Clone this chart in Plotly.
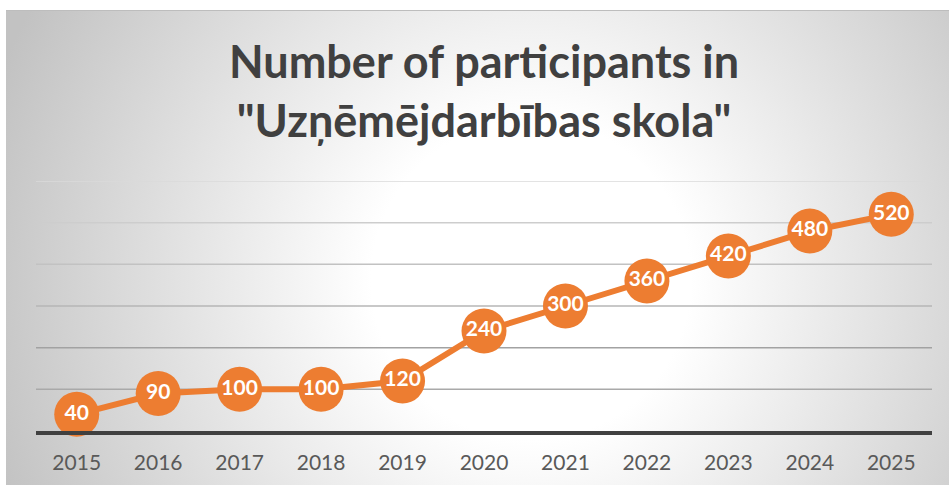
import base64
import plotly.graph_objects as go

# ---- data ----
years = ["2015", "2016", "2017", "2018", "2019", "2020", "2021", "2022", "2023", "2024", "2025"]
participants = [40, 90, 100, 100, 120, 240, 300, 360, 420, 480, 520]
grid_values = [100, 200, 300, 400, 500, 600]
title_text = 'Number of participants in<br>"Uzņēmējdarbības skola"'

# ---- style ----
ORANGE = "#ED7D31"
grid_colors = ["#a9a9a9", "#a2a2a2", "#b6b6b6", "#c2c2c2", "#cdcdcd", "#dadada"]
W, H = 949, 485
ML, MR, MT, MB = 36, 17, 181, 54

# radial gradient background as an SVG image
bw, bh = W - 6, H - 10
svg = f'''<svg xmlns="http://www.w3.org/2000/svg" width="{bw}" height="{bh}" viewBox="0 0 {bw} {bh}" preserveAspectRatio="none">
<defs><radialGradient id="g" gradientUnits="userSpaceOnUse" cx="525" cy="270" r="570">
<stop offset="0" stop-color="#ffffff"/><stop offset="0.28" stop-color="#ffffff"/>
<stop offset="1" stop-color="#c2c2c2"/></radialGradient></defs>
<rect x="0" y="0" width="{bw}" height="{bh}" fill="url(#g)"/>
<line x1="0" y1="0.5" x2="{bw}" y2="0.5" stroke="#bdbdbd" stroke-width="1"/>
</svg>'''
src = "data:image/svg+xml;base64," + base64.b64encode(svg.encode()).decode()

pw = W - ML - MR
ph = H - MT - MB

fig = go.Figure()
fig.add_trace(go.Scatter(
    x=years, y=participants,
    mode="lines+markers+text",
    line=dict(color=ORANGE, width=6),
    marker=dict(size=45, color=ORANGE, line=dict(width=0)),
    text=[str(v) for v in participants],
    textposition="middle center",
    textfont=dict(family="Lato", size=21, color="white", weight=700),
    cliponaxis=False,
    hoverinfo="skip",
))

shapes = []
for v, c in zip(grid_values, grid_colors):
    shapes.append(dict(type="line", xref="paper", yref="y", x0=0, x1=1, y0=v, y1=v,
                       line=dict(color=c, width=1.5), layer="below"))

fig.update_layout(
    width=W, height=H,
    margin=dict(l=ML, r=MR, t=MT, b=MB),
    paper_bgcolor="white",
    plot_bgcolor="rgba(0,0,0,0)",
    showlegend=False,
    annotations=[dict(text=title_text, x=0.5, xref="paper", xanchor="center",
                      y=(H - MB - 91) / ph, yref="paper", yanchor="middle",
                      showarrow=False,
                      font=dict(family="Lato", size=45, color="#404040", weight=700))],
    images=[dict(source=src, xref="paper", yref="paper",
                 x=(6 - ML) / pw, y=(H - MB - 10) / ph,
                 sizex=bw / pw, sizey=bh / ph,
                 xanchor="left", yanchor="top", sizing="stretch", layer="below")],
    shapes=shapes,
    xaxis=dict(type="category", range=[-0.5, len(years) - 0.5], showgrid=False,
               showline=True, linecolor="#404040", linewidth=3.5,
               ticks="outside", ticklen=10, tickcolor="rgba(0,0,0,0)",
               tickfont=dict(family="Lato", size=21, color="#595959"),
               zeroline=False, fixedrange=True),
    yaxis=dict(range=[0, 600], showgrid=False, showticklabels=False, zeroline=False,
               showline=False, fixedrange=True),
)

fig.write_html("out.html", config={"displayModeBar": False},
               post_script="document.body.style.margin='0';")
